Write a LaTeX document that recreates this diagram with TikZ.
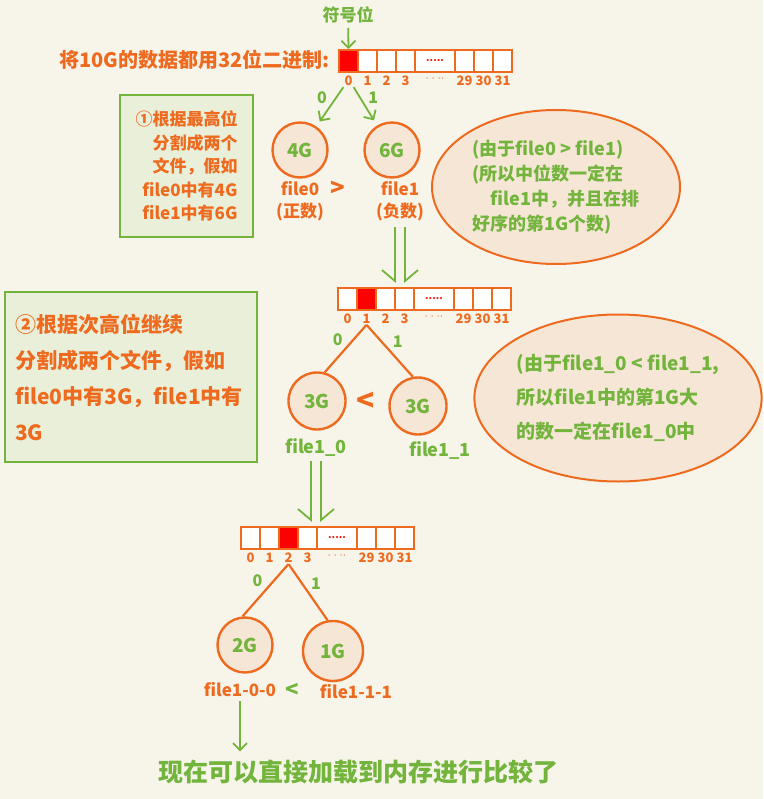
\documentclass[tikz,border=0pt]{standalone}
\usepackage{fontspec}
\usepackage{tikz}
\usetikzlibrary{arrows.meta, shapes.geometric, positioning}
\newfontfamily\cjk{Noto Sans CJK SC}
\newcommand{\hw}[2]{\cjk\bfseries\fontsize{#1}{#2}\selectfont}
\definecolor{sketchorange}{HTML}{EE6A1F}
\definecolor{sketchgreen}{HTML}{72B43C}
\definecolor{papercream}{HTML}{F7F4EA}
\definecolor{notegreen}{HTML}{E9EFD9}
\definecolor{blobfill}{HTML}{F6E6D6}
\tikzset{
	cell/.style={draw=sketchorange, line width=2pt, minimum height=22, inner sep=0pt, anchor=north west},
	bitnum/.style={anchor=north, yshift=-2pt, inner sep=1pt, text=sketchorange, font=\hw{13}{15}},
	blob/.style={circle, draw=sketchorange, fill=blobfill, line width=2.4pt, minimum size=55, inner sep=0pt, text=sketchgreen, font=\hw{19}{22}},
	bubble/.style={ellipse, draw=sketchorange, fill=blobfill, line width=2pt, inner sep=0pt, align=left, text=sketchgreen},
	notebox/.style={draw=sketchgreen, fill=notegreen, line width=2.2pt, inner sep=4pt, text=sketchorange},
	olbl/.style={text=sketchorange, inner sep=1pt, font=\hw{17}{22}},
	glbl/.style={text=sketchgreen, inner sep=2pt, font=\hw{16}{18}},
	garrow/.style={draw=sketchgreen, line width=1.8pt, -{Straight Barb[length=7pt, width=14pt]}},
	oline/.style={draw=sketchorange, line width=2.2pt},
	dblleft/.style={draw=sketchgreen, line width=1.8pt, transform canvas={xshift=-5pt}, -{Straight Barb[harpoon, swap, length=11pt, width=26pt]}},
	dblright/.style={draw=sketchgreen, line width=1.8pt, transform canvas={xshift=5pt}, -{Straight Barb[harpoon, length=11pt, width=26pt]}},
}
% one row of 32 bits: name, left, top, red cell
\newcommand{\bitrow}[4]{%
	\foreach \i/\off/\w/\lbl in {0/0/19/0,1/19/19/1,2/38/19/2,3/57/19/3,4/76/40/$\cdot\cdot\cdot\cdot$,5/116/19/29,6/135/19/30,7/154/19/31}{
		\ifnum\i=#4 \def\cellfill{red}\else\def\cellfill{white}\fi
		\node[cell, minimum width=\w, fill=\cellfill] (#1-\i) at (#2+\off,#3) {};
		\node[bitnum] (#1-l\i) at (#1-\i.south) {\lbl};
	}
	\node[text=red!80!sketchorange, font=\hw{10}{10}] (#1-dots) at (#1-4) {.....};
}

\begin{document}
\begin{tikzpicture}[x=1pt, y=-1pt]
	\fill[papercream] (0,0) rectangle (763,799);
	\useasboundingbox (0,0) rectangle (763,799);

	\bitrow{a}{338}{49}{0}
	\node[text=sketchgreen, font=\hw{17}{18}] (signbit) at (348,15) {符号位};
	\node[anchor=east, text=sketchorange, font=\hw{20}{22}] (title) at (333,60) {将10G的数据都用32位二进制:};
	\draw[garrow, shorten <=1pt] (signbit) -- (a-0.north);

	\node[blob] (g4) at (300,150) {4G};
	\node[blob] (g6) at (392,150) {6G};
	\draw[garrow, shorten >=6pt] (a-l0.south west) -- node[glbl, above left] {0} (g4);
	\draw[garrow, shorten >=6pt] (a-l0.south east) -- node[glbl, above right] {1} (g6);
	\node[olbl, align=center] (pos) at (300,201) {file0\\(正数)};
	\node[olbl, align=center] (neg) at (400,201) {file1\\(负数)};
	\node[text=sketchorange, font=\hw{24}{26}] (gt) at (338,189) {>};

	\node[notebox, minimum width=133, minimum height=142, align=right, font=\hw{17}{23.5}] (note1) at (186.5,166)
		{①根据最高位\\分割成两个\\文件，假如\\file0中有4G\\file1中有6G};
	\node[bubble, minimum width=248, minimum height=154, font=\hw{18}{25}] (why1) at (556,187)
		{(由于file0 > file1)\\(所以中位数一定在\\\hspace{1em}file1中，并且在排\\好序的第1G个数)};

	\bitrow{b}{337}{287}{1}
	\draw[dblleft, shorten <=5pt, shorten >=4pt] (neg.south) -- (neg.south |- b-0.north);
	\draw[dblright, shorten <=5pt, shorten >=4pt] (neg.south) -- (neg.south |- b-0.north);

	\node[blob, minimum size=57] (g3a) at (317,401) {3G};
	\node[blob, minimum size=57] (g3b) at (418,406) {3G};
	\draw[oline] (b-l1.south) -- node[glbl, above left] {0} (g3a.75);
	\draw[oline] (b-l1.south) -- node[glbl, above right] {1} (g3b.100);
	\node[text=sketchorange, font=\hw{30}{32}] (lt) at (366,402) {<};
	\node[glbl, font=\hw{18}{20}] (f10) at (316,447) {file1\_0};
	\node[glbl, font=\hw{18}{20}] (f11) at (440,450) {file1\_1};

	\node[notebox, minimum width=252, minimum height=170, text width=232, align=left, font=\hw{21}{36}] (note2) at (131,377)
		{②根据次高位继续\\分割成两个文件，假如\\file0中有3G，file1中有\\3G};
	\node[bubble, minimum width=277, minimum height=167, font=\hw{19}{34}] (why2) at (618,398)
		{(由于file1\_0 < file1\_1,\\所以file1中的第1G大\\的数一定在file1\_0中};

	\bitrow{c}{240}{526}{2}
	\draw[dblleft, shorten <=3pt, shorten >=4pt] (f10.south) -- (f10.south |- c-0.north);
	\draw[dblright, shorten <=3pt, shorten >=4pt] (f10.south) -- (f10.south |- c-0.north);

	\node[blob] (g2) at (245,645) {2G};
	\node[blob, minimum size=60] (g1) at (333,651) {1G};
	\draw[oline] (c-l2.south) -- node[glbl, above left] {0} (g2.95);
	\draw[oline] (c-l2.south) -- node[glbl, above right] {1} (g1.100);
	\node[olbl] (f100) at (240,690) {file1-0-0};
	\node[text=sketchgreen, font=\hw{22}{24}] (lt2) at (292,690) {<};
	\node[olbl] (f111) at (356,692) {file1-1-1};

	\node[text=sketchgreen, font=\hw{25}{28}] (final) at (358,772) {现在可以直接加载到内存进行比较了};
	\draw[garrow, shorten <=3pt, shorten >=5pt] (f100.south) -- (f100.south |- final.north);
\end{tikzpicture}
\end{document}
